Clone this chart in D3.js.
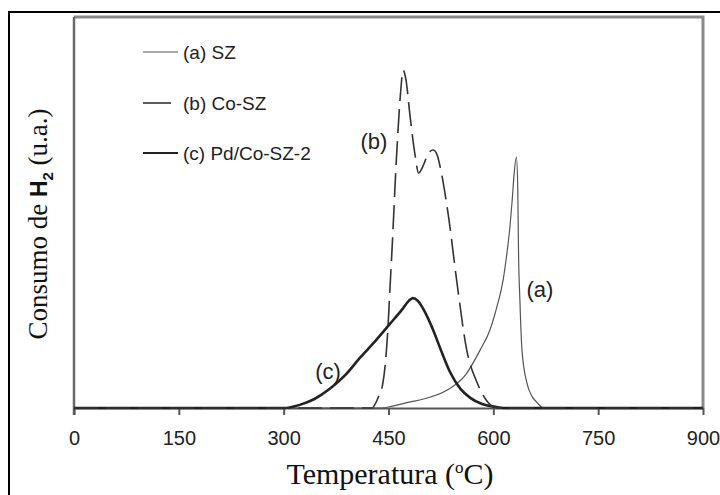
<!DOCTYPE html>
<html><head><meta charset="utf-8">
<script src="https://cdn.jsdelivr.net/npm/d3@7"></script>
<style>
html,body{margin:0;padding:0;background:#fff;}
svg{display:block;}
</style></head>
<body>
<svg id="chart" width="720" height="495"></svg>
<script>
// ---- data ----
const xTicks = [0, 150, 300, 450, 600, 750, 900];
const seriesNames = ["(a) SZ", "(b) Co-SZ", "(c) Pd/Co-SZ-2"];
const seriesTags = ["(a)", "(b)", "(c)"];

// (a) SZ : temperature (°C), H2 consumption (a.u.)
const tempA = [0, 440, 456, 480, 500, 534, 560, 581, 595, 605, 614, 620, 624, 627, 630, 633, 635, 636, 638, 641, 648, 655, 663, 672, 900];
const valA  = [0, 0, 0.5, 1.5, 2.3, 4.6, 8.4, 14.8, 19.9, 25.8, 32.7, 40.4, 46.8, 53.2, 60.4, 64.2, 55.8, 40.4, 27.6, 14.8, 6.4, 3.1, 1.3, 0, 0];

// (b) Co-SZ
const tempB = [0, 420, 426, 435, 442, 445, 449, 452, 455, 462, 467, 471, 475, 481, 488, 493, 500, 507, 514, 520, 524, 536, 548, 562, 577, 590, 600, 610, 900];
const valB  = [0, 0, 0, 2.6, 6.4, 10.5, 19.9, 30.2, 40.4, 66.0, 80.0, 86.4, 83.9, 74.4, 64.7, 60.1, 62.1, 65.2, 66.0, 64.5, 61.6, 48.8, 32.0, 14.8, 6.4, 2.0, 0.3, 0, 0];

// (c) Pd/Co-SZ-2
const tempC = [0, 300, 323, 344, 366, 388, 409, 431, 452, 469, 479, 485, 492, 502, 514, 525, 538, 553, 567, 584, 603, 615, 900];
const valC  = [0, 0, 0.8, 2.3, 4.9, 8.4, 12.8, 17.1, 21.5, 25.1, 27.4, 28.1, 27.4, 24.6, 19.9, 14.8, 9.2, 4.9, 2.6, 1.0, 0.3, 0, 0];

// ---- layout ----
const svg = d3.select("#chart");
const L = 74, R = 703, T = 17, B = 408;

const x = d3.scaleLinear().domain([0, 900]).range([L, R]);
const y = d3.scaleLinear().domain([0, 100]).range([B, T]);

// outer frame
svg.append("rect").attr("x", 9).attr("y", 12).attr("width", 720).attr("height", 500)
  .attr("fill", "none").attr("stroke", "#000").attr("stroke-width", 2);

// plot frame (top/right)
svg.append("path").attr("d", `M${L},${T}H${R}V${B}`)
  .attr("fill", "none").attr("stroke", "#8a8a8a").attr("stroke-width", 3);

// y axis (no ticks)
svg.append("line").attr("x1", L).attr("x2", L).attr("y1", T).attr("y2", B + 7)
  .attr("stroke", "#6a6a6a").attr("stroke-width", 2.5);

// x axis
const xAxis = d3.axisBottom(x).tickValues(xTicks).tickSize(7).tickSizeOuter(0).tickPadding(16);
const gx = svg.append("g").attr("transform", `translate(0,${B})`).call(xAxis);
gx.select(".domain").attr("stroke", "#555").attr("stroke-width", 2);
gx.selectAll(".tick line").attr("stroke", "#555").attr("stroke-width", 2);
gx.selectAll(".tick text").attr("fill", "#222")
  .style("font-family", "'Liberation Sans', Arial, sans-serif").style("font-size", "20px");

// curves
const line = d3.line().x(d => x(d[0])).y(d => y(d[1])).curve(d3.curveMonotoneX);
const zip = (t, v) => t.map((d, i) => [d, v[i]]);

svg.append("path").datum(zip(tempA, valA)).attr("d", line)
  .attr("fill", "none").attr("stroke", "#555").attr("stroke-width", 1.2);
svg.append("path").datum(zip(tempC, valC)).attr("d", line)
  .attr("fill", "none").attr("stroke", "#222").attr("stroke-width", 2.6);
svg.append("path").datum(zip(tempB, valB)).attr("d", line)
  .attr("fill", "none").attr("stroke", "#333").attr("stroke-width", 1.6)
  .attr("stroke-dasharray", "24,8");

// legend
const legStyles = [
  {stroke: "#555", w: 1.2, x2: 178},
  {stroke: "#333", w: 1.6, x2: 171},
  {stroke: "#222", w: 2.2, x2: 178}
];
const legY = [52, 103, 153];
seriesNames.forEach((name, i) => {
  const s = legStyles[i];
  svg.append("line").attr("x1", 143).attr("x2", s.x2).attr("y1", legY[i]).attr("y2", legY[i])
    .attr("stroke", s.stroke).attr("stroke-width", s.w);
  svg.append("text").attr("x", 183).attr("y", legY[i]).attr("dy", "0.35em")
    .attr("fill", "#222").style("font-family", "'Liberation Sans', Arial, sans-serif")
    .style("font-size", "19px").text(name);
});

// curve tags
const tagPos = [[540, 289], [374, 141], [328, 371]];
seriesTags.forEach((t, i) => {
  svg.append("text").attr("x", tagPos[i][0]).attr("y", tagPos[i][1]).attr("dy", "0.35em")
    .attr("text-anchor", "middle").attr("fill", "#222")
    .style("font-family", "'Liberation Sans', Arial, sans-serif").style("font-size", "22px").text(t);
});

// x title
const xt = svg.append("text").attr("x", 390).attr("y", 484).attr("text-anchor", "middle")
  .attr("fill", "#111").style("font-family", "'Liberation Serif', 'Times New Roman', serif")
  .style("font-size", "30px");
xt.append("tspan").text("Temperatura (");
xt.append("tspan").attr("dy", -11).style("font-size", "17px").text("o");
xt.append("tspan").attr("dy", 11).text("C)");

// y title
const yt = svg.append("text").attr("transform", `translate(47,224) rotate(-90)`)
  .attr("text-anchor", "middle").attr("fill", "#111")
  .style("font-family", "'Liberation Serif', 'Times New Roman', serif").style("font-size", "27px");
yt.append("tspan").text("Consumo de ");
yt.append("tspan").style("font-family", "'Liberation Sans', Arial, sans-serif").style("font-weight", "bold")
  .style("font-size", "23px").text("H");
yt.append("tspan").attr("dy", 6).style("font-family", "'Liberation Sans', Arial, sans-serif")
  .style("font-weight", "bold").style("font-size", "15px").text("2");
yt.append("tspan").attr("dy", -6).text(" (u.a.)");
</script>
</body></html>
